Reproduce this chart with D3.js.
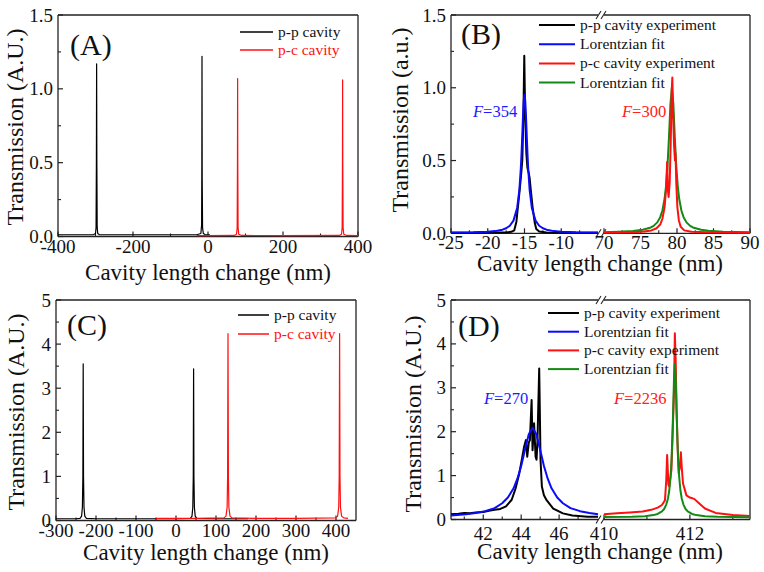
<!DOCTYPE html>
<html><head><meta charset="utf-8">
<script src="https://cdn.jsdelivr.net/npm/d3@7"></script>
<style>body{margin:0;background:#fff}svg{display:block}text{font-family:"Liberation Serif","Times New Roman",serif}</style>
</head><body>
<svg id="c" width="764" height="572"></svg>
<script>
// ---------- DATA ----------
// Panel A (wide scan, transmission in A.U.)
const A_pp = [[-400,0.012],[-350,0.012],[-305,0.013],[-300,0.02],[-298.5,0.06],[-297.6,0.5],[-297,1.17],[-296.4,0.5],[-295.5,0.06],[-294,0.02],[-290,0.013],[-200,0.012],[-100,0.012],[-30,0.012],[-19,0.02],[-17,0.08],[-16.4,0.5],[-16,1.22],[-15.5,0.4],[-14.5,0.06],[-12.5,0.02],[-8,0.013],[5,0.012]];
const A_pc = [[-30,0.006],[0,0.006],[70,0.007],[76,0.015],[77.8,0.06],[78.6,0.5],[79,1.07],[79.4,0.5],[80.2,0.06],[82,0.015],[90,0.007],[200,0.006],[350,0.007],[356,0.015],[357.8,0.06],[358.6,0.5],[359,1.06],[359.4,0.5],[360.2,0.06],[362,0.015],[370,0.007],[400,0.006]];
const A_xMajor = [-400,-200,0,200,400];
const A_xMinor = [-300,-100,100,300];
const A_yMajor = [0,0.5,1.0,1.5];
const A_yMinor = [0.25,0.75,1.25];
const A_legend = ["p-p cavity","p-c cavity"];

// Panel B (zoom on resonances, a.u.)
const B_pp_exp = [[-25,0.004],[-22,0.004],[-19,0.005],[-17.5,0.006],[-16.8,0.01],[-16.4,0.02],[-16.1,0.08],[-15.9,0.18],[-15.75,0.25],[-15.5,0.38],[-15.3,0.5],[-15.15,0.8],[-15.03,1.22],[-14.92,0.85],[-14.75,0.55],[-14.6,0.45],[-14.45,0.42],[-14.3,0.38],[-14.15,0.3],[-13.9,0.18],[-13.6,0.07],[-13.4,0.03],[-13,0.012],[-12,0.006],[-10,0.004],[-5,0.003]];
const B_pp_fit = [[-25,0.005],[-22,0.007],[-20,0.011],[-19,0.015],[-18,0.025],[-17.5,0.035],[-17,0.052],[-16.5,0.087],[-16,0.174],[-15.7,0.297],[-15.5,0.448],[-15.4,0.553],[-15.3,0.677],[-15.2,0.806],[-15.1,0.911],[-15,0.952],[-14.9,0.911],[-14.8,0.806],[-14.7,0.677],[-14.6,0.553],[-14.5,0.448],[-14.3,0.297],[-14,0.174],[-13.5,0.087],[-13,0.052],[-12.5,0.035],[-12,0.025],[-11,0.015],[-10,0.011],[-8,0.007],[-5,0.005]];
const B_pc_exp = [[70,0.005],[72,0.006],[74,0.008],[75.5,0.012],[76.5,0.02],[77.2,0.035],[77.7,0.06],[78.0,0.1],[78.3,0.18],[78.5,0.3],[78.65,0.49],[78.75,0.3],[78.85,0.25],[79.0,0.35],[79.15,0.65],[79.28,0.98],[79.36,1.07],[79.45,0.85],[79.6,0.6],[79.72,0.5],[79.8,0.55],[79.9,0.35],[80.05,0.18],[80.25,0.09],[80.5,0.045],[81,0.02],[82,0.01],[84,0.007],[87,0.005],[90,0.004]];
const B_pc_fit = [[70,0.008],[72,0.011],[74,0.016],[75.3,0.024],[76.3,0.038],[76.8,0.051],[77.3,0.075],[77.7,0.111],[78.0,0.157],[78.3,0.237],[78.5,0.326],[78.7,0.462],[78.9,0.659],[79.1,0.888],[79.3,1.0],[79.5,0.888],[79.7,0.659],[79.9,0.462],[80.1,0.326],[80.3,0.237],[80.6,0.157],[80.9,0.111],[81.3,0.075],[81.8,0.051],[82.3,0.038],[83.3,0.024],[84.3,0.017],[86.3,0.011],[88,0.009],[90,0.008]];
const B_xMajorL = [-25,-20,-15,-10];
const B_xMinorL = [-22.5,-17.5,-12.5,-7.5];
const B_xMajorR = [70,75,80,85,90];
const B_xMinorR = [72.5,77.5,82.5,87.5];
const B_legend = ["p-p cavity experiment","Lorentzian fit","p-c cavity experiment","Lorentzian fit"];
const B_finesse = ["354","300"];

// Panel C (wide scan, second configuration)
const C_pp = [[-300,0.04],[-250,0.04],[-240,0.05],[-236,0.1],[-234,0.3],[-232.8,1.0],[-232,3.55],[-231.2,1.0],[-230,0.3],[-228,0.1],[-224,0.05],[-200,0.04],[0,0.04],[36,0.05],[40,0.1],[42,0.3],[43.2,1.0],[44,3.44],[44.8,1.0],[46,0.3],[48,0.1],[52,0.05],[100,0.04],[180,0.04]];
const C_pc = [[-50,0.05],[50,0.05],[120,0.06],[125,0.1],[127.8,0.3],[129,1.0],[130,4.24],[131,1.0],[132.2,0.3],[135,0.1],[140,0.06],[200,0.05],[300,0.05],[400,0.06],[404,0.1],[406.8,0.3],[408,1.0],[409,4.24],[410,1.0],[411.2,0.3],[414,0.1],[419,0.06],[430,0.05]];
const C_xMajor = [-300,-200,-100,0,100,200,300,400];
const C_xMinor = [-250,-150,-50,50,150,250,350];
const C_yMajor = [0,1,2,3,4,5];
const C_yMinor = [0.5,1.5,2.5,3.5,4.5];
const C_legend = ["p-p cavity","p-c cavity"];

// Panel D (zoom on resonances, second configuration)
const D_pp_exp = [[40.3,0.12],[40.7,0.13],[41.0,0.15],[41.3,0.14],[41.6,0.16],[42.0,0.17],[42.3,0.2],[42.6,0.22],[42.9,0.24],[43.2,0.3],[43.5,0.45],[43.7,0.7],[43.9,1.05],[44.05,1.4],[44.15,1.65],[44.25,1.81],[44.32,1.43],[44.4,1.75],[44.46,1.81],[44.55,2.72],[44.6,1.58],[44.68,2.19],[44.76,1.43],[44.81,1.36],[44.86,1.81],[44.95,3.44],[45.02,1.36],[45.09,0.75],[45.2,0.55],[45.34,0.44],[45.69,0.25],[46.2,0.14],[46.7,0.09],[47.5,0.065],[48.05,0.06]];
const D_pp_fit = [[40.3,0.093],[41.1,0.12],[41.6,0.15],[42.1,0.19],[42.6,0.26],[43.0,0.37],[43.3,0.50],[43.6,0.71],[43.8,0.93],[44.0,1.22],[44.2,1.59],[44.4,1.94],[44.6,2.09],[44.8,1.94],[45.0,1.59],[45.2,1.22],[45.4,0.93],[45.6,0.71],[45.9,0.50],[46.2,0.37],[46.6,0.26],[47.1,0.19],[47.6,0.15],[48.05,0.12]];
const D_pc_exp = [[410,0.12],[410.3,0.14],[410.6,0.16],[410.9,0.18],[411.1,0.22],[411.25,0.27],[411.35,0.33],[411.42,0.44],[411.45,0.9],[411.47,1.47],[411.5,0.8],[411.52,0.75],[411.57,1.13],[411.6,2.0],[411.63,2.9],[411.65,4.24],[411.67,3.6],[411.69,2.5],[411.72,1.5],[411.74,1.05],[411.77,1.2],[411.79,1.53],[411.81,1.2],[411.84,0.82],[411.92,0.55],[412.0,0.5],[412.1,0.47],[412.2,0.38],[412.35,0.25],[412.6,0.15],[413.0,0.1],[413.4,0.08]];
const D_pc_fit = [[410,0.055],[410.65,0.063],[410.95,0.076],[411.15,0.10],[411.25,0.127],[411.35,0.185],[411.4,0.24],[411.45,0.34],[411.49,0.48],[411.52,0.66],[411.55,0.98],[411.57,1.31],[411.59,1.8],[411.61,2.47],[411.63,3.2],[411.65,3.55],[411.67,3.2],[411.69,2.47],[411.71,1.8],[411.73,1.31],[411.75,0.98],[411.78,0.66],[411.81,0.48],[411.85,0.34],[411.9,0.24],[411.95,0.185],[412.05,0.127],[412.15,0.10],[412.35,0.076],[412.65,0.063],[413.4,0.054]];
const D_xMajorL = [42,44,46];
const D_xMinorL = [41,43,45,47];
const D_xMajorR = [410,412];
const D_xMinorR = [411,413];
const D_legend = ["p-p cavity experiment","Lorentzian fit","p-c cavity experiment","Lorentzian fit"];
const D_finesse = ["270","2236"];

const xTitle = "Cavity length change (nm)";

// ---------- DRAWING ----------
const svg = d3.select("#c");
const AX = "#222";

function panel(o) {
  const g = svg.append("g");
  const y = d3.scaleLinear().domain(o.yDomain).range([o.bottom, o.top]);
  const segs = o.segments.map(s => Object.assign({}, s, {x: d3.scaleLinear().domain(s.domain).range(s.px)}));
  const left = segs[0].px[0], right = segs[segs.length-1].px[1];
  // frame
  segs.forEach(s => {
    g.append("line").attr("x1", s.px[0]).attr("x2", s.px[1]).attr("y1", o.top).attr("y2", o.top).attr("stroke", AX).attr("stroke-width", 1.3);
    g.append("line").attr("x1", s.px[0]).attr("x2", s.px[1]).attr("y1", o.bottom).attr("y2", o.bottom).attr("stroke", AX).attr("stroke-width", 1.3);
  });
  g.append("line").attr("x1", left).attr("x2", left).attr("y1", o.top).attr("y2", o.bottom).attr("stroke", AX).attr("stroke-width", 1.3);
  g.append("line").attr("x1", right).attr("x2", right).attr("y1", o.top).attr("y2", o.bottom).attr("stroke", AX).attr("stroke-width", 1.3);
  if (segs.length > 1) {
    const bx = (segs[0].px[1] + segs[1].px[0]) / 2;
    [o.top, o.bottom].forEach(yy => {
      [-2.5, 2.5].forEach(dx => {
        g.append("line").attr("x1", bx + dx - 2.5).attr("y1", yy + 4).attr("x2", bx + dx + 2.5).attr("y2", yy - 4)
          .attr("stroke", AX).attr("stroke-width", 1.1);
      });
    });
  }
  // x ticks
  segs.forEach(s => {
    s.major.forEach(v => {
      g.append("line").attr("x1", s.x(v)).attr("x2", s.x(v)).attr("y1", o.bottom).attr("y2", o.bottom - 5).attr("stroke", AX).attr("stroke-width", 1.2);
      g.append("text").attr("x", s.x(v)).attr("y", o.bottom + o.xLabDy).attr("text-anchor", "middle")
        .attr("font-size", 19).attr("fill", "#111").text(String(v).replace("-", "-"));
    });
    s.minor.forEach(v => {
      g.append("line").attr("x1", s.x(v)).attr("x2", s.x(v)).attr("y1", o.bottom).attr("y2", o.bottom - 3).attr("stroke", AX).attr("stroke-width", 1.1);
    });
  });
  // y ticks
  o.yMajor.forEach(v => {
    g.append("line").attr("x1", left).attr("x2", left + 5).attr("y1", y(v)).attr("y2", y(v)).attr("stroke", AX).attr("stroke-width", 1.2);
    g.append("text").attr("x", left - 5).attr("y", y(v) + 6.5).attr("text-anchor", "end")
      .attr("font-size", 19).attr("fill", "#111").text(o.yFmt(v));
  });
  o.yMinor.forEach(v => {
    g.append("line").attr("x1", left).attr("x2", left + 3).attr("y1", y(v)).attr("y2", y(v)).attr("stroke", AX).attr("stroke-width", 1.1);
  });
  // titles
  g.append("text").attr("x", o.xTitlePos[0]).attr("y", o.xTitlePos[1]).attr("text-anchor", "middle")
    .attr("font-size", 23).attr("fill", "#111").text(xTitle);
  g.append("text").attr("transform", `translate(${o.yTitlePos[0]},${o.yTitlePos[1]}) rotate(-90)`).attr("text-anchor", "middle")
    .attr("font-size", 24).attr("fill", "#111").text(o.yTitle);
  // series
  o.series.forEach(se => {
    const s = segs[se.seg];
    const line = d3.line().x(d => s.x(d[0])).y(d => y(d[1]));
    g.append("path").datum(se.data).attr("d", line).attr("fill", "none").attr("stroke", se.color)
      .attr("stroke-width", se.w).attr("stroke-linejoin", "round");
  });
  // legend
  o.legend.forEach((L, i) => {
    const yy = o.legPos[1] + i * o.legStep;
    g.append("line").attr("x1", o.legPos[0]).attr("x2", o.legPos[0] + o.legLen).attr("y1", yy).attr("y2", yy)
      .attr("stroke", L.color).attr("stroke-width", L.w);
    g.append("text").attr("x", o.legPos[0] + o.legLen + 5).attr("y", yy + 5).attr("font-size", 15.5)
      .attr("fill", L.textColor).text(L.text);
  });
  // panel label
  g.append("text").attr("x", o.label[1]).attr("y", o.label[2]).attr("font-size", 30).attr("fill", "#111").text(o.label[0]);
  // finesse notes
  (o.notes || []).forEach(n => {
    const t = g.append("text").attr("x", n.x).attr("y", n.y).attr("font-size", 16.5).attr("fill", n.color);
    t.append("tspan").attr("font-style", "italic").text("F");
    t.append("tspan").text("=" + n.text);
  });
}

const f1 = v => v.toFixed(1);
const f0 = v => String(v);

panel({
  top: 15, bottom: 236.5, yDomain: [0, 1.5], yMajor: A_yMajor, yMinor: A_yMinor, yFmt: f1,
  segments: [{px: [58, 358], domain: [-400, 400], major: A_xMajor, minor: A_xMinor}],
  xLabDy: 16.5, xTitlePos: [208, 280], yTitlePos: [23, 127], yTitle: "Transmission (A.U.)",
  series: [{seg: 0, data: A_pp, color: "#000", w: 1.2}, {seg: 0, data: A_pc, color: "#ff1010", w: 1.2}],
  legPos: [240, 32], legStep: 18, legLen: 33,
  legend: [{text: A_legend[0], color: "#000", textColor: "#111", w: 1.5}, {text: A_legend[1], color: "#ff1010", textColor: "#ff1010", w: 1.5}],
  label: ["(A)", 70, 55]
});

panel({
  top: 15, bottom: 233.3, yDomain: [0, 1.5], yMajor: A_yMajor, yMinor: A_yMinor, yFmt: f1,
  segments: [{px: [451, 598], domain: [-25, -5], major: B_xMajorL, minor: B_xMinorL},
             {px: [604, 750], domain: [70, 90], major: B_xMajorR, minor: B_xMinorR}],
  xLabDy: 15.5, xTitlePos: [600, 271], yTitlePos: [408, 120], yTitle: "Transmission (a.u.)",
  series: [{seg: 0, data: B_pp_exp, color: "#000", w: 2}, {seg: 0, data: B_pp_fit, color: "#0a0aff", w: 2},
           {seg: 1, data: B_pc_fit, color: "#138a13", w: 2}, {seg: 1, data: B_pc_exp, color: "#ff1010", w: 2}],
  legPos: [539, 25], legStep: 19.2, legLen: 36,
  legend: [{text: B_legend[0], color: "#000", textColor: "#111", w: 2}, {text: B_legend[1], color: "#0a0aff", textColor: "#111", w: 2},
           {text: B_legend[2], color: "#ff1010", textColor: "#111", w: 2}, {text: B_legend[3], color: "#138a13", textColor: "#111", w: 2}],
  label: ["(B)", 461, 44],
  notes: [{x: 473, y: 117, color: "#1a1aff", text: B_finesse[0]}, {x: 622, y: 117, color: "#ff2020", text: B_finesse[1]}]
});

panel({
  top: 300, bottom: 520.5, yDomain: [0, 5], yMajor: C_yMajor, yMinor: C_yMinor, yFmt: f0,
  segments: [{px: [56, 356], domain: [-300, 450], major: C_xMajor, minor: C_xMinor}],
  xLabDy: 16, xTitlePos: [206, 560], yTitlePos: [24, 412], yTitle: "Transmission (A.U.)",
  series: [{seg: 0, data: C_pp, color: "#000", w: 1.2}, {seg: 0, data: C_pc, color: "#ff1010", w: 1.2}],
  legPos: [238, 315], legStep: 19, legLen: 31,
  legend: [{text: C_legend[0], color: "#000", textColor: "#111", w: 1.5}, {text: C_legend[1], color: "#ff1010", textColor: "#ff1010", w: 1.5}],
  label: ["(C)", 67, 335]
});

panel({
  top: 300, bottom: 519.5, yDomain: [0, 5], yMajor: C_yMajor, yMinor: C_yMinor, yFmt: f0,
  segments: [{px: [451, 598], domain: [40.3, 48.05], major: D_xMajorL, minor: D_xMinorL},
             {px: [604, 750], domain: [410, 413.4], major: D_xMajorR, minor: D_xMinorR}],
  xLabDy: 20, xTitlePos: [600, 558.5], yTitlePos: [421, 414], yTitle: "Transmission (A.U.)",
  series: [{seg: 0, data: D_pp_exp, color: "#000", w: 2}, {seg: 0, data: D_pp_fit, color: "#0a0aff", w: 2},
           {seg: 1, data: D_pc_exp, color: "#ff1010", w: 2}, {seg: 1, data: D_pc_fit, color: "#138a13", w: 2}],
  legPos: [548, 313], legStep: 18.7, legLen: 31,
  legend: [{text: D_legend[0], color: "#000", textColor: "#111", w: 2}, {text: D_legend[1], color: "#0a0aff", textColor: "#111", w: 2},
           {text: D_legend[2], color: "#ff1010", textColor: "#111", w: 2}, {text: D_legend[3], color: "#138a13", textColor: "#111", w: 2}],
  label: ["(D)", 458, 336],
  notes: [{x: 484, y: 404, color: "#1a1aff", text: D_finesse[0]}, {x: 614, y: 404, color: "#ff2020", text: D_finesse[1]}]
});
</script>
</body></html>
